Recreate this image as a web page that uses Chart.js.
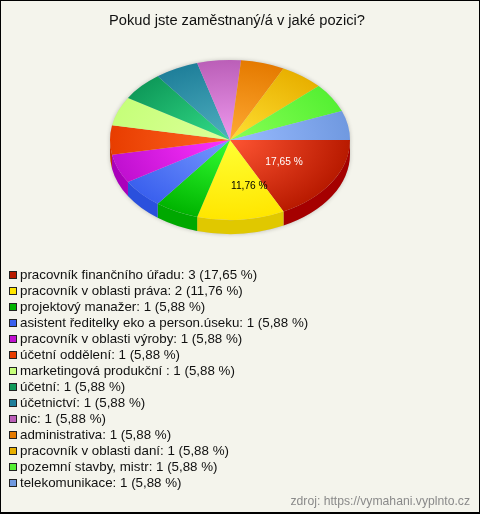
<!DOCTYPE html>
<html lang="cs">
<head>
<meta charset="utf-8">
<title>Pokud jste zaměstnaný/á v jaké pozici?</title>
<script src="https://cdn.jsdelivr.net/npm/chart.js@4/dist/chart.umd.min.js"></script>
<style>
html,body{margin:0;padding:0;background:#f4f4ec;}
#frame{position:relative;width:480px;height:514px;box-sizing:border-box;border:1px solid #000;border-bottom-width:2px;background:#f4f4ec;overflow:hidden;font-family:"Liberation Sans",Arial,sans-serif;}
#wrap{position:absolute;left:-1px;top:-1px;width:480px;height:514px;}
#legend{position:absolute;left:8px;top:266px;margin:0;padding:0;list-style:none;font-size:13.33px;color:#111;}
#legend li{height:16px;line-height:16px;white-space:nowrap;position:relative;padding-left:11px;}
#legend i{position:absolute;left:0;top:4px;width:6px;height:6px;border:1px solid #222;}
#source{position:absolute;right:9px;top:493px;font-size:12.2px;color:#8a8a8a;white-space:nowrap;}
</style>
</head>
<body>
<div id="frame">
<div id="wrap"><canvas id="c"></canvas></div>
<ul id="legend"></ul>
<div id="source">zdroj: https://vymahani.vyplnto.cz</div>
</div>
<script>
const chartTitle = 'Pokud jste zaměstnaný/á v jaké pozici?';
const categories = ['pracovník finančního úřadu','pracovník v oblasti práva','projektový manažer','asistent ředitelky eko a person.úseku','pracovník v oblasti výroby','účetní oddělení','marketingová produkční ','účetní','účetnictví','nic','administrativa','pracovník v oblasti daní','pozemní stavby, mistr','telekomunikace'];
const values = [3,2,1,1,1,1,1,1,1,1,1,1,1,1];
const centerColors = ['#ff5533','#ffff33','#33ff33','#7799ff','#ff33ff','#ff6622','#ddff99','#33dd88','#4fb0c0','#ee99ee','#ffaa33','#ffe033','#88ff55','#99bbff'];
const edgeColors = ['#b81a00','#ffe600','#00b400','#3a60ee','#c010d0','#e83d00','#c6ff7a','#0f9a5a','#1f7f9a','#bb5fb8','#e57a00','#e8b000','#55f033','#7099e0'];
const sideColors = ['#a50000','#e0c800','#00a800','#2a50dd','#aa00bb','#c83000','#a8dd60','#0a8048','#186a80','#a050a0','#c86800','#c89800','#40d020','#5a80c8'];
const swatchColors = ['#b81a00','#ffe600','#00b400','#3a60ee','#c010d0','#e83d00','#c6ff7a','#0f9a5a','#1f7f9a','#bb5fb8','#e57a00','#e8b000','#55f033','#7099e0'];
const labelColors = ['#ffffff','#000000'];
const labelNudgeX = [2, 13];
const labelRadial = [0.51, 0.57];

const PIE_CX = 230, PIE_CY = 140, PIE_R = 120, SQUASH = 2/3, DEPTH = 14;
const total = values.reduce((a,b)=>a+b,0);
const pct = v => (v/total*100).toFixed(2).replace('.',',') + ' %';

const legendEl = document.getElementById('legend');
categories.forEach((name,i)=>{
  const li = document.createElement('li');
  const sw = document.createElement('i');
  sw.style.background = swatchColors[i];
  li.appendChild(sw);
  li.appendChild(document.createTextNode(name + ': ' + values[i] + ' (' + pct(values[i]) + ')'));
  legendEl.appendChild(li);
});

const pie3d = {
  id:'pie3d',
  beforeDatasetsDraw(chart){
    const ctx = chart.ctx, arcs = chart.getDatasetMeta(0).data;
    const a0 = arcs[0];
    ctx.save();
    ctx.translate(PIE_CX, PIE_CY);
    ctx.scale(1, SQUASH);
    ctx.translate(-a0.x, -a0.y);
    const d = DEPTH / SQUASH;
    ctx.save();
    ctx.shadowColor = 'rgba(0,0,0,0.22)';
    ctx.shadowBlur = 4;
    ctx.fillStyle = '#cccccc';
    ctx.beginPath();
    ctx.arc(a0.x, a0.y, a0.outerRadius, 0, Math.PI);
    ctx.arc(a0.x, a0.y + d, a0.outerRadius, Math.PI, 0, true);
    ctx.closePath();
    ctx.fill();
    ctx.beginPath();
    ctx.arc(a0.x, a0.y, a0.outerRadius, 0, Math.PI*2);
    ctx.fill();
    ctx.restore();
    arcs.forEach((arc,i)=>{
      const s = Math.max(arc.startAngle, 0), e = Math.min(arc.endAngle, Math.PI);
      if (e <= s) return;
      ctx.fillStyle = sideColors[i];
      ctx.beginPath();
      ctx.arc(arc.x, arc.y, arc.outerRadius, s, e);
      ctx.arc(arc.x, arc.y + d, arc.outerRadius, e, s, true);
      ctx.closePath();
      ctx.fill();
    });
  },
  afterDatasetsDraw(chart){
    const ctx = chart.ctx, arcs = chart.getDatasetMeta(0).data;
    ctx.restore();
    ctx.save();
    ctx.font = '10.2px "Liberation Sans", Arial, sans-serif';
    ctx.textAlign = 'center';
    ctx.textBaseline = 'middle';
    arcs.forEach((arc,i)=>{
      if (values[i]/total < 0.1) return;
      const mid = (arc.startAngle + arc.endAngle)/2;
      const x = PIE_CX + Math.cos(mid)*arc.outerRadius*labelRadial[i] + labelNudgeX[i];
      const y = PIE_CY + Math.sin(mid)*arc.outerRadius*SQUASH*labelRadial[i] + 1;
      ctx.fillStyle = labelColors[i];
      ctx.fillText(pct(values[i]), x, y);
    });
    ctx.restore();
  }
};

new Chart(document.getElementById('c'),{
  type:'pie',
  data:{
    labels:categories,
    datasets:[{
      data:values,
      clip:false,
      borderWidth:0,
      backgroundColor:(c)=>{
        const a = c.chart.chartArea, i = c.dataIndex;
        if (!a || i === undefined) return edgeColors[i||0];
        const x=(a.left+a.right)/2, y=(a.top+a.bottom)/2;
        const g = c.chart.ctx.createRadialGradient(x,y,0,x,y,PIE_R);
        g.addColorStop(0,centerColors[i]);
        g.addColorStop(1,edgeColors[i]);
        return g;
      }
    }]
  },
  options:{
    responsive:true,
    maintainAspectRatio:false,
    animation:false,
    rotation:90,
    radius:PIE_R,
    layout:{padding:{right:6}},
    plugins:{
      legend:{display:false},
      tooltip:{enabled:false},
      title:{
        display:true,
        text:chartTitle,
        color:'#111111',
        font:{family:'"Liberation Sans", Arial, sans-serif',size:14.67,weight:'normal'},
        padding:{top:12,bottom:10}
      }
    }
  },
  plugins:[pie3d]
});
</script>
</body>
</html>
